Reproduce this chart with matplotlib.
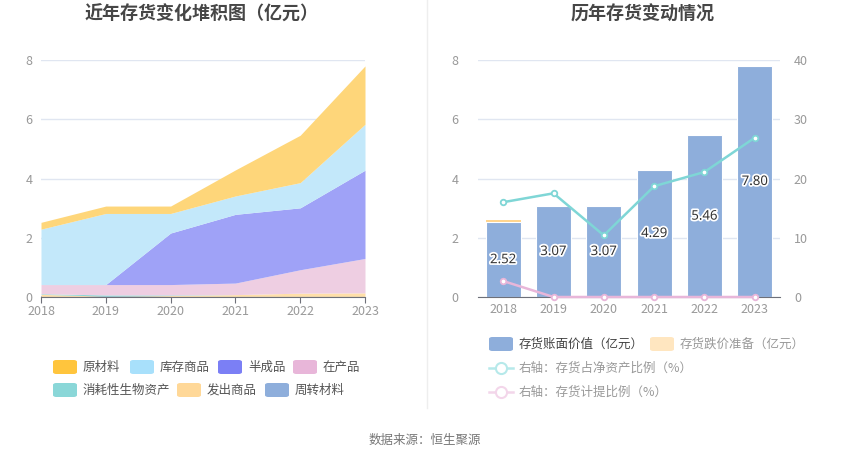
import matplotlib
matplotlib.use("Agg")
import matplotlib.pyplot as plt
import matplotlib.patheffects as pe
from matplotlib.patches import FancyBboxPatch
from matplotlib.lines import Line2D
import numpy as np

plt.rcParams['font.family'] = ['Noto Sans CJK SC', 'DejaVu Sans']

years = ["2018", "2019", "2020", "2021", "2022", "2023"]

# Left: stacked composition (亿元), bottom to top
zhouzhuan = [0.02, 0.02, 0.02, 0.02, 0.02, 0.02]
fachu = [0.07, 0.01, 0.03, 0.06, 0.11, 0.12]
xiaohao = [0.02, 0.04, 0.02, 0.00, 0.00, 0.00]
zaichan = [0.31, 0.35, 0.35, 0.39, 0.79, 1.16]
banchengpin = [0.00, 0.00, 1.74, 2.32, 2.09, 2.98]
kucun = [1.87, 2.40, 0.66, 0.62, 0.85, 1.55]
yuancailiao = [0.23, 0.25, 0.25, 0.88, 1.60, 1.97]

# Right: book value, impairment, ratios
book_value = [2.52, 3.07, 3.07, 4.29, 5.46, 7.80]
impairment = [0.07, 0.0, 0.0, 0.0, 0.0, 0.0]
ratio_net_assets = [16.0, 17.5, 10.4, 18.7, 21.1, 26.9]
ratio_provision = [2.7, 0.0, 0.0, 0.0, 0.0, 0.0]

W, H = 850, 458
fig = plt.figure(figsize=(W / 100, H / 100), dpi=100)

def fx(px):
    return px / W

def fy(py):
    return 1 - py / H

grid_c = "#e0e6f1"
tick_c = "#999999"
axis_c = "#6e7079"

# ---------------- Left chart ----------------
axL = fig.add_axes([fx(41), fy(297), fx(365) - fx(41), fy(60) - fy(297)])
x = np.arange(len(years))
layers = [zhouzhuan, fachu, xiaohao, zaichan, banchengpin, kucun, yuancailiao]
fill_colors = ["#8eaedb", "#ffdfa8", "#8ad7d8", "#eecee2", "#9fa2f7", "#c3e8fa", "#fed67a"]
base = np.zeros(len(years))
for vals, c in zip(layers, fill_colors):
    top = base + np.array(vals)
    axL.fill_between(x, base, top, color=c, linewidth=0, zorder=2)
    base = top
axL.set_xlim(0, len(years) - 1)
axL.set_ylim(0, 8)
axL.set_yticks([0, 2, 4, 6, 8])
axL.set_xticks(x)
axL.set_xticklabels(years)
axL.grid(axis='y', color=grid_c, linewidth=1, zorder=0)
for s in ['top', 'right', 'left']:
    axL.spines[s].set_visible(False)
axL.spines['bottom'].set_color(axis_c)
axL.tick_params(axis='y', length=0, colors=tick_c, labelsize=9, pad=6)
axL.tick_params(axis='x', length=4, color=axis_c, colors=tick_c, labelsize=9, pad=2)
axL.set_axisbelow(True)

# ---------------- Right chart ----------------
axR = fig.add_axes([fx(478), fy(297), fx(780) - fx(478), fy(60) - fy(297)])
bar_c = "#8eaedb"
imp_c = "#ffd58f"
axR.bar(x, book_value, width=0.7, color=bar_c, edgecolor="white", linewidth=0.8, zorder=2)
axR.bar(x, impairment, width=0.7, bottom=book_value, color=imp_c, linewidth=0, zorder=2)
for xi, v in zip(x, book_value):
    axR.text(xi, v / 2, f"{v:.2f}", ha='center', va='center', fontsize=9.5, color="#333333",
             family=['Noto Sans', 'DejaVu Sans'], zorder=5,
             path_effects=[pe.withStroke(linewidth=2.5, foreground='white')])
axR.set_xlim(-0.5, len(years) - 0.5)
axR.set_ylim(0, 8)
axR.set_yticks([0, 2, 4, 6, 8])
axR.set_xticks(x)
axR.set_xticklabels(years)
axR.grid(axis='y', color=grid_c, linewidth=1, zorder=0)
axR.set_axisbelow(True)
for s in ['top', 'right', 'left']:
    axR.spines[s].set_visible(False)
axR.spines['bottom'].set_color(axis_c)
axR.tick_params(axis='y', length=0, colors=tick_c, labelsize=9, pad=14)
axR.tick_params(axis='x', length=0, colors=tick_c, labelsize=9, pad=4)

axR2 = axR.twinx()
teal = "#7fd6d6"
pink = "#e8b6d9"
axR2.plot(x, ratio_net_assets, color=teal, linewidth=1.8, marker='o', markersize=4,
          markerfacecolor='white', markeredgecolor=teal, markeredgewidth=1.3, zorder=4)
axR2.plot(x, ratio_provision, color=pink, linewidth=1.8, marker='o', markersize=4,
          markerfacecolor='white', markeredgecolor=pink, markeredgewidth=1.3, zorder=4,
          clip_on=False)
axR2.set_ylim(0, 40)
axR2.set_yticks([0, 10, 20, 30, 40])
for s in ['top', 'right', 'left', 'bottom']:
    axR2.spines[s].set_visible(False)
axR2.tick_params(axis='y', length=0, colors=tick_c, labelsize=9, pad=10)

# ---------------- Titles, separators, source ----------------
fig.text(fx(202), fy(14), "近年存货变化堆积图（亿元）", ha='center', va='center',
         fontsize=13, fontweight='bold', color="#464646")
fig.text(fx(643), fy(14), "历年存货变动情况", ha='center', va='center',
         fontsize=13, fontweight='bold', color="#464646")
fig.add_artist(Line2D([fx(427), fx(427)], [fy(0), fy(408)], color="#eeeeee", linewidth=1))
fig.text(fx(425), fy(440), "数据来源：恒生聚源", ha='center', va='center',
         fontsize=9, color="#777777")

# ---------------- Legends ----------------
def patch(px, py, color, w=24, h=14):
    p = FancyBboxPatch((fx(px), fy(py + h / 2)), fx(w), h / H,
                       boxstyle="round,pad=0,rounding_size=0.004",
                       transform=fig.transFigure, facecolor=color, edgecolor='none')
    fig.add_artist(p)

def label(px, py, s, color="#555555"):
    fig.text(fx(px), fy(py), s, ha='left', va='center', fontsize=9, color=color)

left_items_row1 = [(53, "#ffc53d", "原材料"), (130, "#a8e0fb", "库存商品"),
                   (218, "#7b7ff5", "半成品"), (293, "#e8b6d9", "在产品")]
left_items_row2 = [(53, "#8ad7d8", "消耗性生物资产"), (177, "#ffd898", "发出商品"),
                   (265, "#8eaedb", "周转材料")]
for px, c, s in left_items_row1:
    patch(px, 367, c)
    label(px + 30, 367, s)
for px, c, s in left_items_row2:
    patch(px, 390, c)
    label(px + 30, 390, s)

patch(489, 344, bar_c)
label(519, 344, "存货账面价值（亿元）", color="#444444")
patch(650, 344, "#ffe6c0")
label(680, 344, "存货跌价准备（亿元）", color="#999999")

for py, c, s in [(368, "#b6e9ea", "右轴：存货占净资产比例（%）"),
                 (392, "#f3d6ea", "右轴：存货计提比例（%）")]:
    fig.add_artist(Line2D([fx(489), fx(513)], [fy(py), fy(py)], color=c, linewidth=1.8))
    fig.add_artist(Line2D([fx(501)], [fy(py)], marker='o', markersize=8, markerfacecolor='white',
                          markeredgecolor=c, markeredgewidth=1.5, linestyle='none'))
    label(519, py, s, color="#999999")

fig.savefig("out.png", dpi=100, facecolor='white')
